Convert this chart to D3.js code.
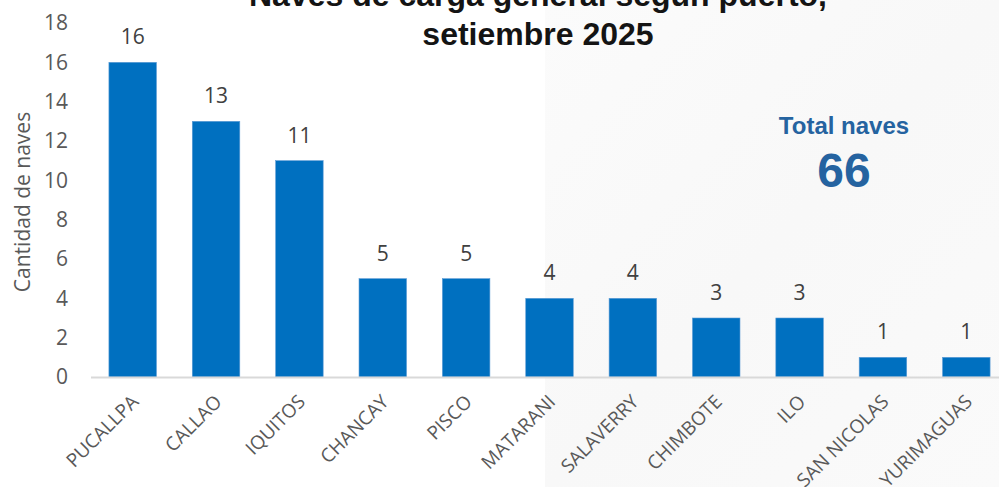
<!DOCTYPE html>
<html>
<head>
<meta charset="utf-8">
<script src="https://cdn.jsdelivr.net/npm/d3@7"></script>
<style>
  html, body { margin: 0; padding: 0; background: #ffffff; }
  svg { display: block; }
</style>
</head>
<body>
<div id="chart"></div>
<script>
// ── data ──
const ports = ["PUCALLPA", "CALLAO", "IQUITOS", "CHANCAY", "PISCO", "MATARANI",
               "SALAVERRY", "CHIMBOTE", "ILO", "SAN NICOLAS", "YURIMAGUAS"];
const naves = [16, 13, 11, 5, 5, 4, 4, 3, 3, 1, 1];
const yTicks = [0, 2, 4, 6, 8, 10, 12, 14, 16, 18];
const titleLines = ["Naves de carga general según puerto,", "setiembre 2025"];
const totalLabel = "Total naves";
const totalValue = 66;

const W = 999, H = 487;
const font = "'Open Sans', 'Noto Sans', sans-serif";
const boldFont = "'Liberation Sans', Arial, sans-serif";

const svg = d3.select("#chart").append("svg")
  .attr("width", W).attr("height", H);

// faint watermark-like background on the right
const defs = svg.append("defs");
const grad = defs.append("linearGradient").attr("id", "bg")
  .attr("x1", "0").attr("x2", "1").attr("y1", "0").attr("y2", "1");
grad.append("stop").attr("offset", "0").attr("stop-color", "#fbfbfb");
grad.append("stop").attr("offset", "0.5").attr("stop-color", "#f8f8f8");
grad.append("stop").attr("offset", "1").attr("stop-color", "#fafafa");
svg.append("rect").attr("x", 545).attr("y", 0).attr("width", W - 545).attr("height", H)
  .attr("fill", "url(#bg)");

// scales
const x = d3.scaleBand().domain(ports).range([91, 1008])
  .paddingInner(0.43).paddingOuter(0.215);
const y = d3.scaleLinear().domain([0, 18]).range([377, 23]);

// y tick labels
svg.append("g").selectAll("text").data(yTicks).join("text")
  .attr("x", 68).attr("y", d => y(d)).attr("dy", "0.35em")
  .attr("text-anchor", "end")
  .attr("font-family", font).attr("font-size", 21).attr("fill", "#595959")
  .text(d => d);

// y axis title
svg.append("text")
  .attr("transform", `translate(30,${y(9) + 2}) rotate(-90)`)
  .attr("text-anchor", "middle")
  .attr("font-family", font).attr("font-size", 21).attr("fill", "#595959")
  .text("Cantidad de naves");

// bars
svg.append("g").selectAll("rect").data(naves).join("rect")
  .attr("x", (d, i) => x(ports[i]))
  .attr("y", d => y(d))
  .attr("width", x.bandwidth())
  .attr("height", d => y(0) - y(d))
  .attr("fill", "#0070c0")
  .attr("stroke", "#5b9bd5").attr("stroke-width", 0.6);

// axis line
svg.append("line")
  .attr("x1", 91).attr("x2", W).attr("y1", y(0) + 0.5).attr("y2", y(0) + 0.5)
  .attr("stroke", "#d9d9d9").attr("stroke-width", 2);

// value labels
svg.append("g").selectAll("text").data(naves).join("text")
  .attr("x", (d, i) => x(ports[i]) + x.bandwidth() / 2)
  .attr("y", d => y(d) - 18)
  .attr("text-anchor", "middle")
  .attr("font-family", font).attr("font-size", 21).attr("fill", "#404040")
  .text(d => d);

// x labels rotated
svg.append("g").selectAll("text").data(ports).join("text")
  .attr("transform", d => `translate(${x(d) + x.bandwidth() / 2 + 7},${y(0) + 26}) rotate(-45)`)
  .attr("text-anchor", "end")
  .attr("font-family", font).attr("font-size", 19).attr("fill", "#595959")
  .text(d => d);

// title
svg.append("g").selectAll("text").data(titleLines).join("text")
  .attr("x", 538).attr("y", (d, i) => 6 + i * 39)
  .attr("text-anchor", "middle")
  .attr("font-family", boldFont)
  .attr("font-weight", "bold").attr("font-size", 32).attr("fill", "#141414")
  .text(d => d);

// total box
svg.append("text")
  .attr("x", 844).attr("y", 134)
  .attr("text-anchor", "middle")
  .attr("font-family", boldFont)
  .attr("font-weight", "bold").attr("font-size", 24).attr("fill", "#2563a0")
  .text(totalLabel);

svg.append("text")
  .attr("x", 844).attr("y", 187)
  .attr("text-anchor", "middle")
  .attr("font-family", boldFont)
  .attr("font-weight", "bold").attr("font-size", 48).attr("fill", "#2563a0")
  .text(totalValue);
</script>
</body>
</html>
